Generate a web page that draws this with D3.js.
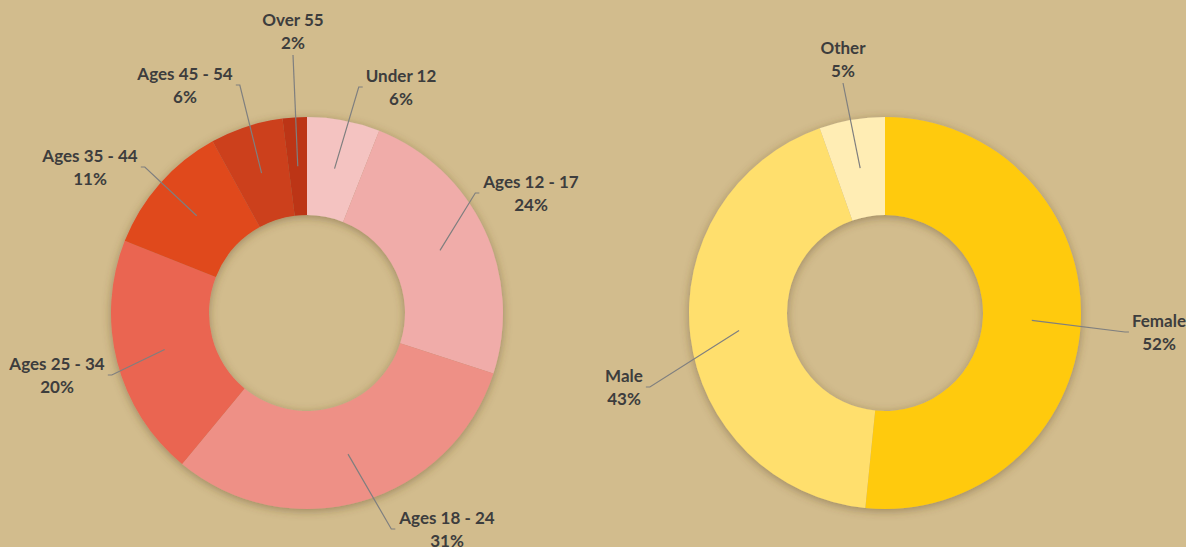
<!DOCTYPE html>
<html>
<head>
<meta charset="utf-8">
<script src="https://cdn.jsdelivr.net/npm/d3@7"></script>
<style>
  html, body { margin: 0; padding: 0; background: #D2BC8D; }
  svg { display: block; }
  .lbl { font-family: Lato, "Open Sans", sans-serif; font-weight: bold; font-size: 17px; fill: #3D3D3D; }
</style>
</head>
<body>
<svg id="chart"></svg>
<script>
// age chart data
var ageCategories = ["Under 12", "Ages 12 - 17", "Ages 18 - 24", "Ages 25 - 34", "Ages 35 - 44", "Ages 45 - 54", "Over 55"];
var ageValues = [6, 24, 31, 20, 11, 6, 2];
var ageColors = ["#F4C3C1", "#F0ACA9", "#EE9086", "#EA6551", "#E0481F", "#CC3F1C", "#BC3519"];

// gender chart data (labels show rounded shares)
var genderCategories = ["Female", "Male", "Other"];
var genderValues = [51.6, 43, 5.4];
var genderColors = ["#FFCA0F", "#FFDF6D", "#FFEDB4"];

var dimensions = {
    width: 1186,
    height: 547,
    outer: 196,
    inner: 98
}

// where each label block sits, relative to its donut centre, and which side the leader leaves from
var ageLabelLayout = [
    {dx: 94, dy: -226, side: "left"},
    {dx: 224, dy: -120, side: "left"},
    {dx: 140, dy: 216, side: "left"},
    {dx: -250, dy: 62, side: "right"},
    {dx: -217, dy: -146, side: "right"},
    {dx: -122, dy: -228, side: "right"},
    {dx: -14, dy: -282, side: "bottom"}
]
var genderLabelLayout = [
    {dx: 274, dy: 19, side: "left"},
    {dx: -261, dy: 74, side: "right"},
    {dx: -42, dy: -254, side: "bottom"}
]

var svg = d3.select("#chart")
    .attr("width", dimensions.width)
    .attr("height", dimensions.height)

var defs = svg.append("defs")
var filter = defs.append("filter")
    .attr("id", "shadow")
    .attr("x", "-20%").attr("y", "-20%")
    .attr("width", "140%").attr("height", "140%")
filter.append("feDropShadow")
    .attr("dx", 0).attr("dy", 2)
    .attr("stdDeviation", 5)
    .attr("flood-color", "#5a4620")
    .attr("flood-opacity", 0.45)

function drawDonut(cx, cy, categories, values, colors, layout) {
    var pie = d3.pie().sort(null).value(function(d) { return d.value })
    var data = pie(categories.map(function(c, i) { return {name: c, value: values[i], color: colors[i]} }))

    var arc = d3.arc()
        .innerRadius(dimensions.inner)
        .outerRadius(dimensions.outer)

    var g = svg.append("g")
        .attr("transform", "translate(" + cx + "," + cy + ")")

    g.append("g")
        .attr("filter", "url(#shadow)")
        .selectAll("path")
        .data(data)
        .enter()
        .append("path")
        .attr("d", arc)
        .attr("fill", function(d) { return d.data.color })

    var total = d3.sum(values)

    data.forEach(function(d, i) {
        var pos = layout[i]
        var text = g.append("text")
            .attr("class", "lbl")
            .attr("text-anchor", "middle")
            .attr("x", pos.dx)
            .attr("y", pos.dy - 5)
        text.append("tspan").attr("x", pos.dx).text(d.data.name)
        text.append("tspan").attr("x", pos.dx).attr("dy", 23)
            .text(Math.round(d.data.value / total * 100) + "%")

        var box = text.node().getBBox()
        var c = arc.centroid(d)
        var pts
        if (pos.side === "left") {
            var x0 = box.x - 3
            pts = [[x0, pos.dy], [x0 - 4, pos.dy], c]
        } else if (pos.side === "right") {
            var x1 = box.x + box.width + 3
            pts = [[x1, pos.dy], [x1 + 4, pos.dy], c]
        } else {
            pts = [[pos.dx, box.y + box.height + 2], c]
        }
        g.append("path")
            .attr("d", d3.line()(pts))
            .attr("fill", "none")
            .attr("stroke", "#7F7F7F")
            .attr("stroke-width", 1.2)
    })
}

drawDonut(307, 313, ageCategories, ageValues, ageColors, ageLabelLayout)
drawDonut(885, 313, genderCategories, genderValues, genderColors, genderLabelLayout)
</script>
</body>
</html>
